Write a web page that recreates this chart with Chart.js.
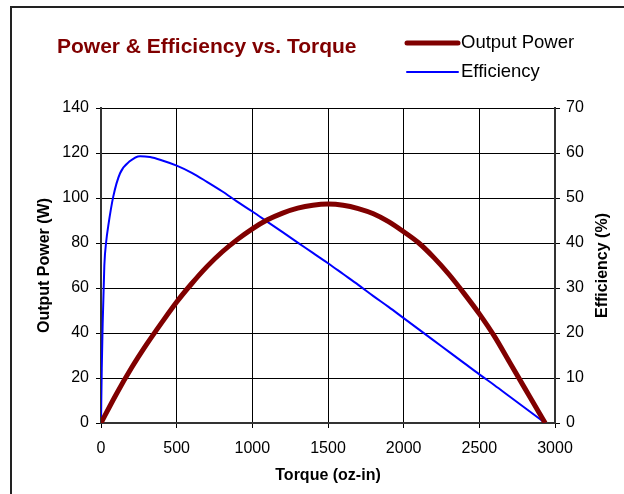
<!DOCTYPE html>
<html>
<head>
<meta charset="utf-8">
<script src="https://cdn.jsdelivr.net/npm/chart.js@4"></script>
<style>
  html, body { margin: 0; padding: 0; background: #fff; }
  #wrap { width: 624px; height: 494px; }
</style>
</head>
<body>
<div id="wrap"><canvas id="powerChart" width="624" height="494"></canvas></div>
<script>
// values
var torquePower = [0, 100, 200, 300, 400, 500, 600, 700, 800, 900, 1000, 1100, 1200, 1300, 1400, 1500,
    1600, 1700, 1800, 1900, 2000, 2100, 2200, 2300, 2400, 2500, 2600, 2700, 2800, 2900, 2935];
var outputPower = [0, 12.7, 24.3, 34.8, 44.5, 53.8, 62, 69.5, 76, 81.5, 86.3, 90.3, 93.3, 95.5, 96.8, 97.3,
    96.8, 95.3, 93, 89.5, 85, 80, 73.5, 66, 57.5, 48.5, 38.5, 27, 15.5, 4, 0];

var torqueEff = [0, 5, 11, 22, 35, 48, 81, 126, 192, 258, 324, 400, 500, 600, 700, 800, 900, 1000, 1100,
    1200, 1300, 1400, 1500, 1600, 1700, 1800, 1900, 2000, 2100, 2200, 2300, 2400, 2500, 2600, 2700,
    2800, 2900, 2935];
var efficiency = [0, 12, 22, 35, 40.5, 43.8, 50.3, 55.5, 58.2, 59.3, 59.1, 58.4, 57.2, 55.6, 53.6, 51.5,
    49.2, 47, 44.7, 42.4, 40.1, 37.8, 35.5, 33.1, 30.7, 28.2, 25.8, 23.3, 20.8, 18.3, 15.8, 13.3, 10.8,
    8.4, 5.9, 3.4, 0.9, 0];

var chartTitle = 'Power & Efficiency vs. Torque';
var seriesNames = ['Output Power', 'Efficiency'];
var seriesColors = ['#800000', '#0000ff'];
var rightTitle = 'Efficiency (%)';

var fontFam = '"Liberation Sans", Arial, sans-serif';

function toPoints(xs, ys) {
    return xs.map(function (x, i) { return { x: x, y: ys[i] }; });
}

// frame, title, legend and the right axis title (reads bottom to top)
var decorPlugin = {
    id: 'decor',
    beforeDraw: function (chart) {
        var c = chart.ctx;
        c.save();
        c.strokeStyle = '#222';
        c.lineWidth = 2;
        c.strokeRect(11, 7, 700, 700);
        c.restore();
    },
    afterDraw: function (chart) {
        var c = chart.ctx;
        c.save();
        c.fillStyle = '#800000';
        c.font = 'bold 21px ' + fontFam;
        c.textBaseline = 'middle';
        c.textAlign = 'left';
        c.fillText(chartTitle, 57, 47);

        var rows = [{ y: 43, w: 5 }, { y: 72, w: 2 }];
        c.font = '18.5px ' + fontFam;
        rows.forEach(function (r, i) {
            c.strokeStyle = seriesColors[i];
            c.lineWidth = r.w;
            c.lineCap = 'round';
            c.beginPath();
            c.moveTo(407, r.y);
            c.lineTo(458, r.y);
            c.stroke();
            c.fillStyle = '#000';
            c.fillText(seriesNames[i], 461, r.y);
        });

        var area = chart.chartArea;
        c.translate(603, (area.top + area.bottom) / 2);
        c.rotate(-Math.PI / 2);
        c.textAlign = 'center';
        c.fillStyle = '#000';
        c.font = 'bold 16px ' + fontFam;
        c.fillText(rightTitle, 0, 0);
        c.restore();
    }
};

var ctx = document.getElementById('powerChart').getContext('2d');
var myChart = new Chart(ctx, {
    type: 'scatter',
    data: {
        datasets: [{
            label: seriesNames[0],
            data: toPoints(torquePower, outputPower),
            yAxisID: 'y',
            showLine: true,
            borderColor: seriesColors[0],
            borderWidth: 5,
            pointRadius: 0,
            cubicInterpolationMode: 'monotone'
        }, {
            label: seriesNames[1],
            data: toPoints(torqueEff, efficiency),
            yAxisID: 'y1',
            showLine: true,
            borderColor: seriesColors[1],
            borderWidth: 2,
            pointRadius: 0,
            cubicInterpolationMode: 'monotone'
        }]
    },
    options: {
        responsive: false,
        animation: false,
        layout: { padding: { top: 108, left: 0, right: 0, bottom: 0 } },
        plugins: {
            legend: { display: false },
            title: { display: false },
            tooltip: { enabled: false }
        },
        scales: {
            x: {
                type: 'linear',
                min: 0, max: 3000,
                afterFit: function (s) { s.height = 71; },
                border: { color: '#333', width: 2 },
                grid: { color: '#000', lineWidth: 1, tickLength: 5 },
                ticks: { stepSize: 500, color: '#000', padding: 11, maxRotation: 0,
                    font: { family: fontFam, size: 16 },
                    callback: function (v) { return String(v); } },
                title: { display: true, text: 'Torque (oz-in)', color: '#000',
                    font: { family: fontFam, size: 16, weight: 'bold' }, padding: { top: 0, bottom: 9 } }
            },
            y: {
                position: 'left',
                min: 0, max: 140,
                afterFit: function (s) { s.width = 101; },
                border: { color: '#333', width: 2 },
                grid: { color: '#000', lineWidth: 1, tickLength: 5 },
                ticks: { stepSize: 20, color: '#000', padding: 7,
                    font: { family: fontFam, size: 16 } },
                title: { display: true, text: 'Output Power (W)', color: '#000',
                    font: { family: fontFam, size: 16, weight: 'bold' }, padding: { top: 35, bottom: 0 } }
            },
            y1: {
                position: 'right',
                min: 0, max: 70,
                afterFit: function (s) { s.width = 69; },
                border: { color: '#333', width: 2 },
                grid: { drawOnChartArea: false, color: '#000', tickLength: 5 },
                ticks: { stepSize: 10, color: '#000', padding: 6,
                    font: { family: fontFam, size: 16 } },
                title: { display: false }
            }
        }
    },
    plugins: [decorPlugin]
});
</script>
</body>
</html>
